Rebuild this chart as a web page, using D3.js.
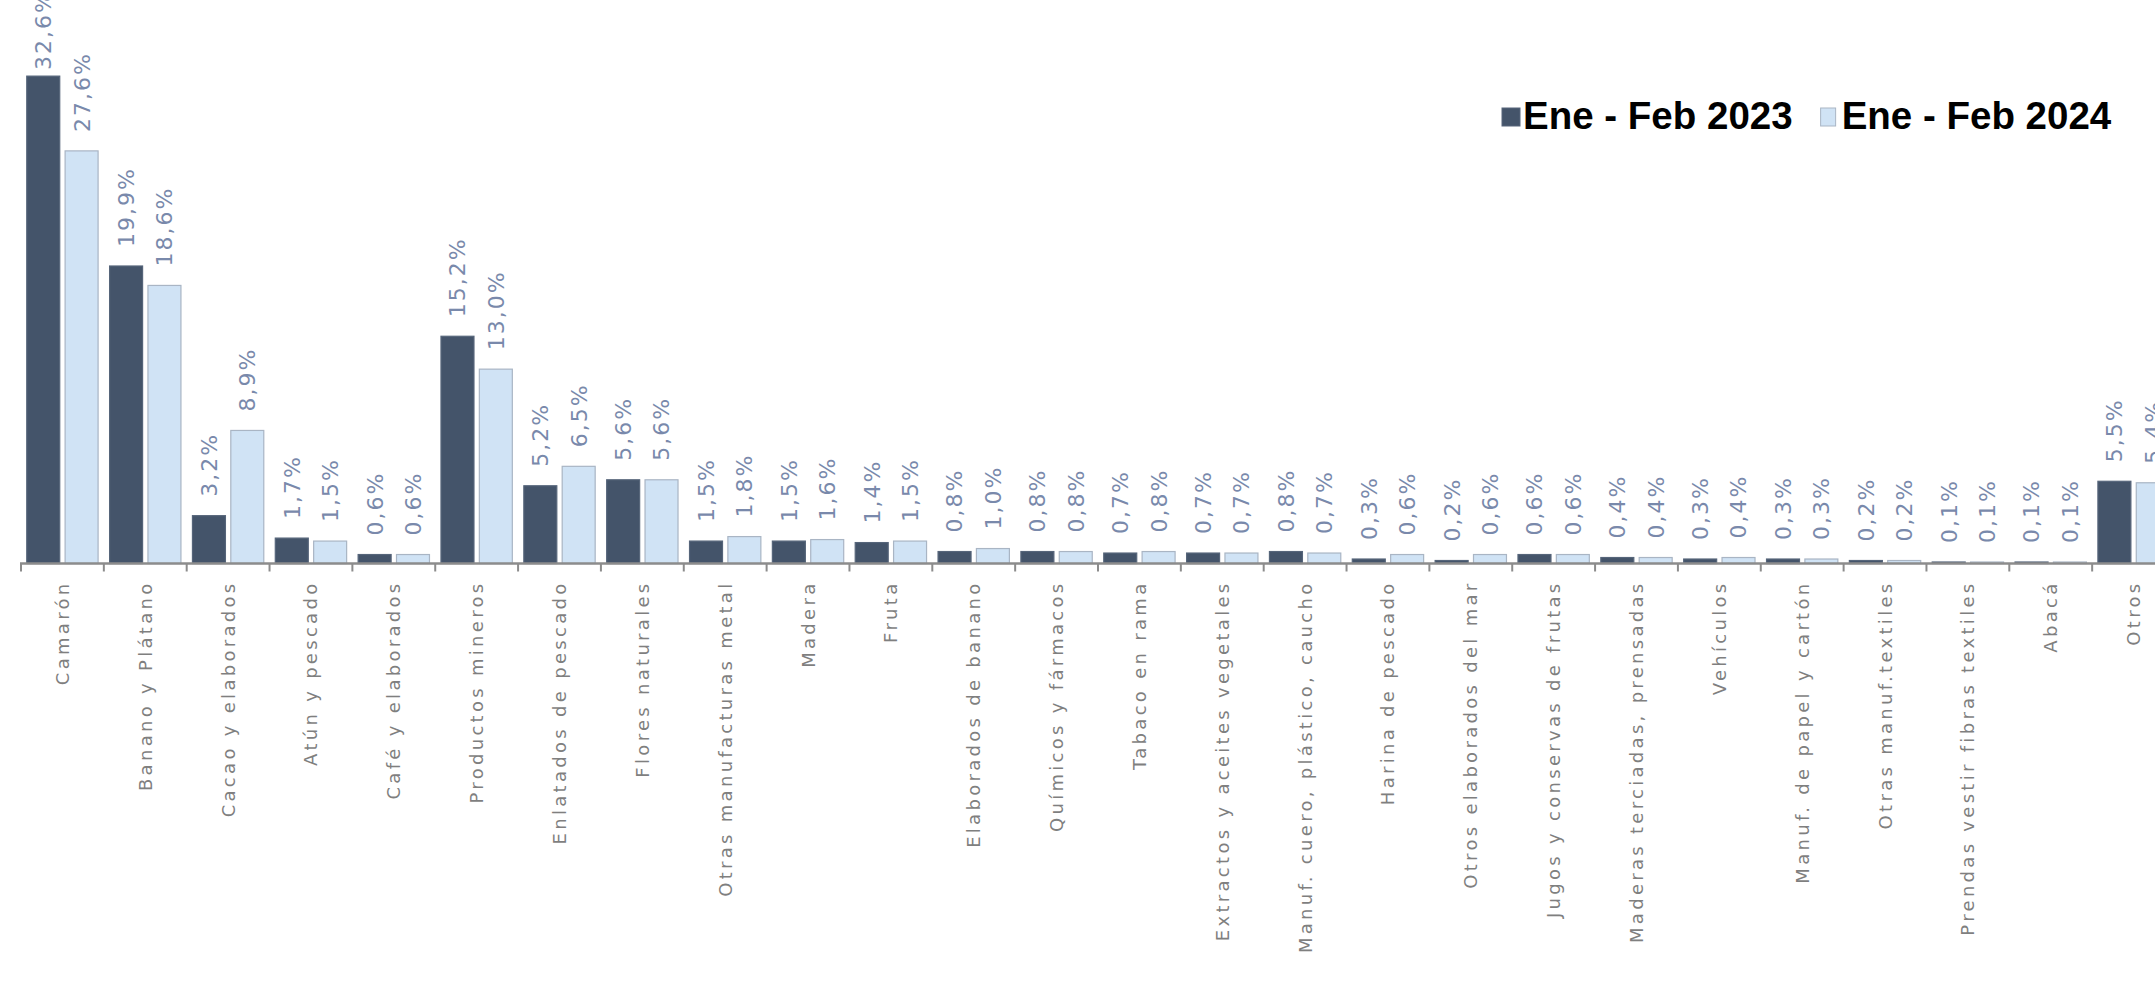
<!DOCTYPE html>
<html>
<head>
<meta charset="utf-8">
<script src="https://cdn.jsdelivr.net/npm/d3@7"></script>
<style>
  html, body { margin: 0; padding: 0; background: #fff; }
  svg { display: block; }
</style>
</head>
<body>
<div id="chart"></div>
<script>
const categories = [
  "Camarón", "Banano y Plátano", "Cacao y elaborados", "Atún y pescado",
  "Café y elaborados", "Productos mineros", "Enlatados de pescado",
  "Flores naturales", "Otras manufacturas metal", "Madera", "Fruta",
  "Elaborados de banano", "Químicos y fármacos", "Tabaco en rama",
  "Extractos y aceites vegetales", "Manuf. cuero, plástico, caucho",
  "Harina de pescado", "Otros elaborados del mar", "Jugos y conservas de frutas",
  "Maderas terciadas, prensadas", "Vehículos", "Manuf. de papel y cartón",
  "Otras manuf.textiles", "Prendas vestir fibras textiles", "Abacá", "Otros"
];
const seriesNames = ["Ene - Feb 2023", "Ene - Feb 2024"];
const values2023 = [32.6, 19.9, 3.2, 1.7, 0.6, 15.2, 5.2, 5.6, 1.5, 1.5, 1.4, 0.8, 0.8,
                    0.7, 0.7, 0.8, 0.3, 0.2, 0.6, 0.4, 0.3, 0.3, 0.2, 0.1, 0.1, 5.5];
const values2024 = [27.6, 18.6, 8.9, 1.5, 0.6, 13.0, 6.5, 5.6, 1.8, 1.6, 1.5, 1.0, 0.8,
                    0.8, 0.7, 0.7, 0.6, 0.6, 0.6, 0.4, 0.4, 0.3, 0.2, 0.1, 0.1, 5.4];

const width = 2155, height = 995;
const baseY = 563.5;
const colors = ["#44546A", "#D0E3F5"];
const strokes = ["#56657a", "#a9b5c4"];

const svg = d3.select("#chart").append("svg")
  .attr("width", width)
  .attr("height", height);

// chart is cut at the right edge like the reference, the last band runs past 2155
const x0 = d3.scaleBand().domain(categories).range([21, 2175]);
const x1 = d3.scaleBand().domain(seriesNames).range([0, x0.bandwidth()])
  .paddingInner(0.14).paddingOuter(0.15);
const y = d3.scaleLinear().domain([0, 35]).range([baseY, baseY - 35 * 14.95]);

const fmt = v => d3.format(".1f")(v).replace(".", ",") + "%";

const rows = categories.map((c, i) => ({cat: c, vals: [values2023[i], values2024[i]]}));

const groups = svg.append("g").selectAll("g")
  .data(rows)
  .join("g")
  .attr("transform", d => `translate(${x0(d.cat)},0)`);

groups.selectAll("rect")
  .data(d => d.vals.map((v, k) => ({v, k})))
  .join("rect")
  .attr("x", d => x1(seriesNames[d.k]))
  .attr("width", x1.bandwidth())
  .attr("y", d => y(d.v))
  .attr("height", d => baseY - y(d.v))
  .attr("fill", d => colors[d.k])
  .attr("stroke", d => strokes[d.k])
  .attr("stroke-width", 1.2);

// value labels, rotated, kept inside the top of the picture
const minTop = -10;
groups.selectAll("text.val")
  .data(d => d.vals.map((v, k) => ({v, k})))
  .join("text")
  .attr("class", "val")
  .attr("font-family", "DejaVu Sans, sans-serif")
  .attr("font-size", 22)
  .attr("letter-spacing", 2)
  .attr("fill", "#7989ab")
  .attr("text-anchor", "start")
  .attr("dy", "0.36em")
  .text(d => fmt(d.v))
  .each(function(d) {
    const len = this.getComputedTextLength();
    const cx = x1(seriesNames[d.k]) + x1.bandwidth() / 2;
    const bottom = Math.max(y(d.v) - 19, minTop + len);
    d3.select(this).attr("transform", `translate(${cx},${bottom}) rotate(-90)`);
  });

// axis line
svg.append("g")
  .attr("transform", `translate(0,${baseY})`)
  .call(d3.axisBottom(x0).tickSize(0).tickFormat(""))
  .call(g => g.select(".domain").attr("stroke", "#8c8c8c").attr("stroke-width", 2.5)
    .attr("d", `M20,0H${width}`));

// ticks on band boundaries
svg.append("g").selectAll("line")
  .data(categories)
  .join("line")
  .attr("x1", d => x0(d)).attr("x2", d => x0(d))
  .attr("y1", baseY).attr("y2", baseY + 8)
  .attr("stroke", "#8c8c8c")
  .attr("stroke-width", 2);

// category labels
svg.append("g").selectAll("text")
  .data(categories)
  .join("text")
  .attr("font-family", "DejaVu Sans, sans-serif")
  .attr("font-size", 18)
  .attr("letter-spacing", 3.3)
  .attr("fill", "#7f7f7f")
  .attr("text-anchor", "end")
  .attr("dy", "0.36em")
  .attr("transform", d => `translate(${x0(d) + x0.bandwidth() / 2},${baseY + 17}) rotate(-90)`)
  .text(d => d);

// legend
const legend = svg.append("g").attr("class", "legend");
let lx = 1502;
seriesNames.forEach((s, k) => {
  legend.append("rect")
    .attr("x", lx).attr("y", 108)
    .attr("width", k === 0 ? 18 : 15).attr("height", 18)
    .attr("fill", colors[k])
    .attr("stroke", strokes[k])
    .attr("stroke-width", 1);
  const t = legend.append("text")
    .attr("x", lx + 21).attr("y", 129)
    .attr("font-family", "Liberation Sans, Arial, sans-serif")
    .attr("font-weight", "bold")
    .attr("font-size", 38.5)
    .attr("fill", "#000")
    .text(s);
  lx += 21 + t.node().getComputedTextLength() + 28;
});
</script>
</body>
</html>
